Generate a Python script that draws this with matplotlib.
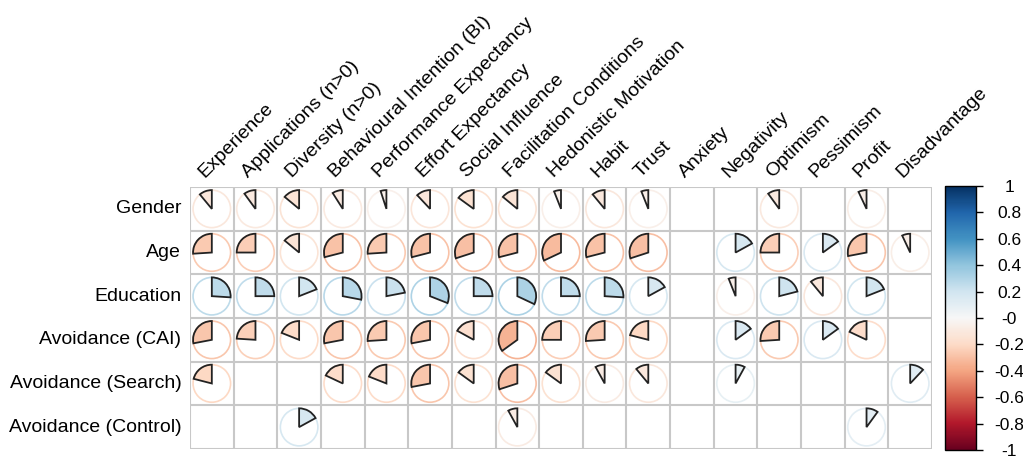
import numpy as np
import matplotlib
matplotlib.use("Agg")
import matplotlib.pyplot as plt
from matplotlib.patches import Wedge, Circle
from matplotlib.cm import ScalarMappable
from matplotlib.colors import Normalize

plt.rcParams["font.family"] = ["Liberation Sans", "DejaVu Sans"]

columns = ["Experience", "Applications (n>0)", "Diversity (n>0)",
           "Behavioural Intention (BI)", "Performance Expectancy",
           "Effort Expectancy", "Social Influence", "Facilitation Conditions",
           "Hedonistic Motivation", "Habit", "Trust", "Anxiety", "Negativity",
           "Optimism", "Pessimism", "Profit", "Disadvantage"]
rows = ["Gender", "Age", "Education", "Avoidance (CAI)",
        "Avoidance (Search)", "Avoidance (Control)"]

na = np.nan
gender = [-0.11, -0.10, -0.14, -0.09, -0.05, -0.12, -0.15, -0.14, -0.06,
          -0.11, -0.06, na, na, -0.10, na, -0.07, na]
age = [-0.26, -0.25, -0.14, -0.29, -0.26, -0.29, -0.30, -0.29, -0.32,
       -0.29, -0.30, na, 0.17, -0.25, 0.15, -0.28, -0.07]
education = [0.26, 0.25, 0.19, 0.28, 0.22, 0.31, 0.25, 0.32, 0.25,
             0.26, 0.17, na, -0.06, 0.21, -0.11, 0.19, na]
avoid_cai = [-0.28, -0.24, -0.19, -0.28, -0.26, -0.28, -0.17, -0.35, -0.25,
             -0.26, -0.21, na, 0.15, -0.26, 0.15, -0.18, na]
avoid_search = [-0.21, na, na, -0.18, -0.19, -0.28, -0.15, -0.30, -0.15,
                -0.08, -0.11, na, 0.08, na, na, na, 0.12]
avoid_control = [na, na, 0.17, na, na, na, na, -0.08, na,
                 na, na, na, na, na, na, 0.10, na]

corr = np.array([gender, age, education, avoid_cai, avoid_search, avoid_control])

cmap = plt.get_cmap("RdBu")
norm = Normalize(-1, 1)

fig = plt.figure(figsize=(10.23, 4.58), dpi=100)
ax = fig.add_axes([190 / 1023, 8 / 458, 742 / 1023, 264 / 458])
ncol, nrow = len(columns), len(rows)
ax.set_xlim(0, ncol)
ax.set_ylim(nrow, 0)
ax.set_aspect("equal")
ax.axis("off")

# grid
for i in range(ncol + 1):
    ax.plot([i, i], [0, nrow], color="#c8c8c8", lw=1.5, zorder=1)
for j in range(nrow + 1):
    ax.plot([0, ncol], [j, j], color="#c8c8c8", lw=1.5, zorder=1)

r = 0.43
for j in range(nrow):
    for i in range(ncol):
        v = corr[j, i]
        if np.isnan(v):
            continue
        cx, cy = i + 0.5, j + 0.5
        col = cmap(norm(v))
        ax.add_patch(Circle((cx, cy), r, fill=False, ec=col, lw=1.2, zorder=2))
        # y axis inverted: angles measured with flipped y, so swap direction
        if v < 0:
            t1, t2 = 270 - abs(v) * 360, 270
        else:
            t1, t2 = 270, 270 + v * 360
        ax.add_patch(Wedge((cx, cy), r, t1, t2, fc=col, ec="#222222",
                           lw=1.3, zorder=3))

for j, name in enumerate(rows):
    ax.text(-0.2, j + 0.5, name, ha="right", va="center", fontsize=14)
for i, name in enumerate(columns):
    ax.text(i + 0.4, -0.15, name, ha="left", va="bottom", rotation=45,
            rotation_mode="anchor", fontsize=14)

cax = fig.add_axes([945 / 1023, 8 / 458, 31 / 1023, 264 / 458])
sm = ScalarMappable(norm=norm, cmap=cmap)
cb = fig.colorbar(sm, cax=cax)
ticks = np.round(np.arange(-1, 1.01, 0.2), 1)
cb.set_ticks(ticks)
cb.set_ticklabels([("%g" % t) for t in ticks])
cb.ax.tick_params(labelsize=12.5, length=5, width=1, direction="out")
for lab in cb.ax.get_yticklabels():
    lab.set_horizontalalignment("center")
cb.ax.tick_params(pad=19)
cb.outline.set_linewidth(1)

fig.savefig("out.png", dpi=100)
